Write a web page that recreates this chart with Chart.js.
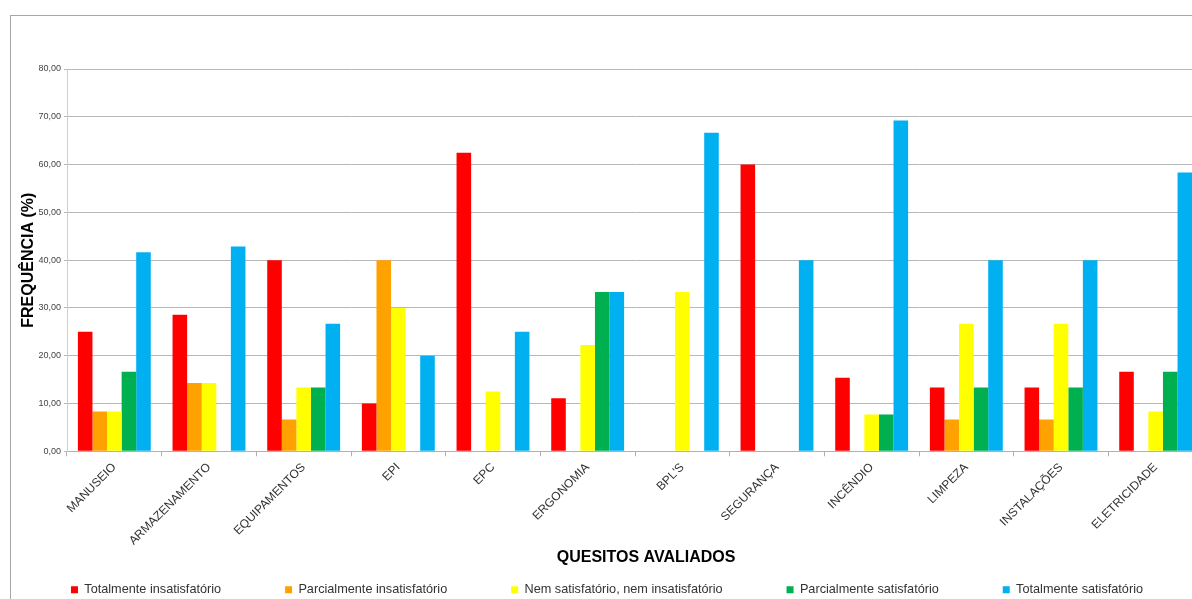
<!DOCTYPE html>
<html>
<head>
<meta charset="utf-8">
<script src="https://cdn.jsdelivr.net/npm/chart.js@4.4.1/dist/chart.umd.min.js"></script>
<style>
  html, body { margin: 0; padding: 0; background: #fff; overflow: hidden; width: 1192px; height: 599px; }
  #frame { position: absolute; left: 10px; top: 15px; width: 1200px; height: 600px;
           border-left: 1px solid #a6a6a6; border-top: 1px solid #a6a6a6; }
  #c { position: absolute; left: 0; top: 0; }
</style>
</head>
<body>
<div id="frame"><canvas id="c" width="1199" height="590"></canvas></div>
<script>
const categories = ["MANUSEIO", "ARMAZENAMENTO", "EQUIPAMENTOS", "EPI", "EPC", "ERGONOMIA",
                    "BPL'S", "SEGURANÇA", "INCÊNDIO", "LIMPEZA", "INSTALAÇÕES", "ELETRICIDADE"];
const seriesNames = ["Totalmente insatisfatório", "Parcialmente insatisfatório",
                     "Nem satisfatório, nem insatisfatório", "Parcialmente satisfatório",
                     "Totalmente satisfatório"];
const totalmenteInsatisfatorio   = [25.00, 28.57, 40.00, 10.00, 62.50, 11.11, 0,     60.00, 15.38, 13.33, 13.33, 16.67];
const parcialmenteInsatisfatorio = [8.33,  14.29, 6.67,  40.00, 0,     0,     0,     0,     0,     6.67,  6.67,  0];
const nemSatisfatorio            = [8.33,  14.29, 13.33, 30.00, 12.50, 22.22, 33.33, 0,     7.69,  26.67, 26.67, 8.33];
const parcialmenteSatisfatorio   = [16.67, 0,     13.33, 0,     0,     33.33, 0,     0,     7.69,  13.33, 13.33, 16.67];
const totalmenteSatisfatorio     = [41.67, 42.86, 26.67, 20.00, 25.00, 33.33, 66.67, 40.00, 69.23, 40.00, 40.00, 58.33];
const yTicks = [0, 10, 20, 30, 40, 50, 60, 70, 80];

const colors = ["#FF0000", "#FFA200", "#FFFF00", "#00B050", "#00B0F0"];
const seriesValues = [totalmenteInsatisfatorio, parcialmenteInsatisfatorio, nemSatisfatorio,
                      parcialmenteSatisfatorio, totalmenteSatisfatorio];

const FONT = "'Liberation Sans', Arial, sans-serif";

const datasets = seriesNames.map((name, i) => ({
  label: name,
  data: seriesValues[i],
  backgroundColor: colors[i],
  borderWidth: 0,
  barPercentage: 1.0,
  categoryPercentage: 0.77
}));

new Chart(document.getElementById('c'), {
  type: 'bar',
  data: { labels: categories, datasets },
  options: {
    responsive: false,
    animation: false,
    devicePixelRatio: 1,
    layout: { padding: { top: 53, right: 7, left: 0, bottom: 0 } },
    plugins: {
      tooltip: { enabled: false },
      legend: {
        position: 'bottom',
        labels: {
          font: { family: FONT, size: 12.7 },
          color: '#333',
          boxWidth: 7,
          boxHeight: 7,
          padding: 4,
          generateLabels: (chart) => {
            const base = Chart.defaults.plugins.legend.labels.generateLabels(chart);
            base.forEach((l, idx) => {
              l.lineWidth = 0;
              if (idx < base.length - 1) l.text = l.text + '\u00A0'.repeat(17);
            });
            return base;
          }
        }
      }
    },
    scales: {
      x: {
        offset: true,
        grid: { display: true, drawOnChartArea: false, drawTicks: true, tickLength: 5,
                color: '#b0b0b0', offset: true },
        border: { display: true, color: '#b0b0b0' },
        ticks: { font: { family: FONT, size: 12 }, color: '#333', minRotation: 45, maxRotation: 45, padding: 4 },
        title: { display: true, text: '\u00A0\u00A0\u00A0\u00A0\u00A0QUESITOS AVALIADOS', color: '#000',
                 font: { family: FONT, size: 16, weight: 'bold' }, padding: { top: 4, bottom: 12 } },
        afterFit: (s) => { s.height = 128; }
      },
      y: {
        min: 0, max: 80,
        afterBuildTicks: (s) => { s.ticks = yTicks.map(v => ({ value: v })); },
        grid: { color: '#b8b8b8', lineWidth: 1, drawTicks: true, tickLength: 3 },
        border: { display: true, color: '#cfcfcf' },
        ticks: { font: { family: FONT, size: 9 }, color: '#444', padding: 3,
                 callback: (v) => Number(v).toFixed(2).replace('.', ',') },
        title: { display: true, text: 'FREQUÊNCIA (%)', color: '#000',
                 font: { family: FONT, size: 16, weight: 'bold' }, padding: { top: 8, bottom: 4 } },
        afterFit: (s) => { s.width = 56; }
      }
    }
  }
});
</script>
</body>
</html>
